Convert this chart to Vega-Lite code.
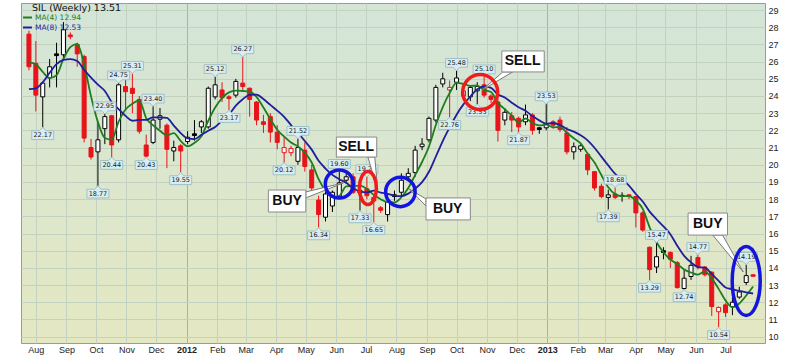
{
"$schema": "https://vega.github.io/schema/vega-lite/v6.json",
"width": 744, "height": 340,
"autosize": {"type": "none"},
"padding": {"left": 21, "top": 3, "right": 35, "bottom": 14},
"background": "#ffffff",
"title": {"text": "SIL (Weekly) 13.51", "anchor": "start", "frame": "group", "offset": -9, "dx": 11, "fontSize": 9.5, "font": "DejaVu Sans", "fontWeight": "normal", "color": "#111111"},
"config": {
  "view": {"fill": {"gradient": "linear", "x1": 0, "y1": 0, "x2": 0, "y2": 1, "stops": [{"offset": 0, "color": "#d3e5d8"}, {"offset": 1, "color": "#e4e8c2"}]}, "stroke": "#8fa08f", "strokeWidth": 1},
  "font": "DejaVu Sans",
  "axis": {"labelOverlap": false, "labelFlush": false}
},
"datasets": {
"candles": [
{"date":"2011-07-25","open":27.6,"high":27.8,"low":25.5,"close":25.7,"ma4":25.95,"ma8":24.4},
{"date":"2011-08-01","open":25.9,"high":27.2,"low":23.1,"close":24.05,"ma4":25.85,"ma8":24.45},
{"date":"2011-08-08","open":23.95,"high":24.85,"low":22.17,"close":24.75,"ma4":25.4,"ma8":24.8,"lab":"L"},
{"date":"2011-08-15","open":25.05,"high":26.15,"low":24.5,"close":25.7,"ma4":25.05,"ma8":25.35},
{"date":"2011-08-22","open":26.45,"high":27.1,"low":24.5,"close":26.35,"ma4":25.21,"ma8":25.85},
{"date":"2011-08-29","open":26.4,"high":28.3,"low":26.2,"close":27.85,"ma4":26.16,"ma8":26.1},
{"date":"2011-09-05","open":27.55,"high":27.7,"low":27.3,"close":27.45,"ma4":26.84,"ma8":26.15},
{"date":"2011-09-12","open":27.0,"high":27.1,"low":25.7,"close":26.45,"ma4":27.03,"ma8":26.04},
{"date":"2011-09-19","open":26.3,"high":26.4,"low":21.3,"close":21.55,"ma4":25.83,"ma8":25.52},
{"date":"2011-09-26","open":21.0,"high":21.5,"low":20.3,"close":20.45,"ma4":23.98,"ma8":25.07},
{"date":"2011-10-03","open":20.75,"high":22.5,"low":18.77,"close":21.45,"ma4":22.48,"ma8":24.66,"lab":"L"},
{"date":"2011-10-10","open":22.1,"high":22.95,"low":21.2,"close":22.8,"ma4":21.56,"ma8":24.29,"lab":"H"},
{"date":"2011-10-17","open":22.85,"high":22.9,"low":20.44,"close":21.15,"ma4":21.46,"ma8":23.64,"lab":"L"},
{"date":"2011-10-24","open":21.45,"high":24.75,"low":21.3,"close":24.65,"ma4":22.51,"ma8":23.24,"lab":"H"},
{"date":"2011-10-31","open":24.55,"high":24.95,"low":23.2,"close":24.25,"ma4":23.21,"ma8":22.84},
{"date":"2011-11-07","open":24.45,"high":25.31,"low":23.0,"close":24.15,"ma4":23.55,"ma8":22.56,"lab":"H"},
{"date":"2011-11-14","open":23.8,"high":24.0,"low":21.8,"close":21.95,"ma4":23.75,"ma8":22.61},
{"date":"2011-11-21","open":21.15,"high":21.75,"low":20.43,"close":20.5,"ma4":22.71,"ma8":22.61,"lab":"L"},
{"date":"2011-11-28","open":21.3,"high":23.4,"low":21.2,"close":22.6,"ma4":22.3,"ma8":22.76,"lab":"H"},
{"date":"2011-12-05","open":22.65,"high":23.3,"low":22.1,"close":22.85,"ma4":21.98,"ma8":22.76},
{"date":"2011-12-12","open":22.3,"high":22.4,"low":19.8,"close":20.9,"ma4":21.71,"ma8":22.73},
{"date":"2011-12-19","open":20.8,"high":21.4,"low":20.2,"close":21.0,"ma4":21.84,"ma8":22.28},
{"date":"2011-12-26","open":21.1,"high":21.2,"low":19.55,"close":20.8,"ma4":21.39,"ma8":21.84,"lab":"L"},
{"date":"2012-01-02","open":21.35,"high":21.95,"low":21.2,"close":21.6,"ma4":21.08,"ma8":21.53},
{"date":"2012-01-09","open":21.8,"high":22.6,"low":21.4,"close":21.7,"ma4":21.28,"ma8":21.49},
{"date":"2012-01-16","open":22.2,"high":22.6,"low":21.85,"close":22.5,"ma4":21.65,"ma8":21.74},
{"date":"2012-01-23","open":22.2,"high":24.55,"low":22.1,"close":24.45,"ma4":22.56,"ma8":21.98},
{"date":"2012-01-30","open":23.95,"high":25.12,"low":23.8,"close":24.65,"ma4":23.33,"ma8":22.2,"lab":"H"},
{"date":"2012-02-06","open":24.35,"high":24.8,"low":23.65,"close":23.9,"ma4":23.88,"ma8":22.58},
{"date":"2012-02-13","open":23.95,"high":24.05,"low":23.17,"close":23.85,"ma4":24.21,"ma8":22.93,"lab":"L"},
{"date":"2012-02-20","open":24.05,"high":25.0,"low":23.9,"close":24.85,"ma4":24.31,"ma8":23.44},
{"date":"2012-02-27","open":24.75,"high":26.27,"low":24.3,"close":24.55,"ma4":24.29,"ma8":23.81,"lab":"H"},
{"date":"2012-03-05","open":24.45,"high":24.5,"low":22.8,"close":23.8,"ma4":24.26,"ma8":24.07},
{"date":"2012-03-12","open":23.65,"high":23.7,"low":22.3,"close":22.6,"ma4":23.95,"ma8":24.08},
{"date":"2012-03-19","open":22.5,"high":22.9,"low":21.85,"close":22.35,"ma4":23.33,"ma8":23.82},
{"date":"2012-03-26","open":22.8,"high":23.0,"low":21.3,"close":21.9,"ma4":22.66,"ma8":23.48},
{"date":"2012-04-02","open":21.9,"high":22.3,"low":20.9,"close":21.3,"ma4":22.04,"ma8":23.15},
{"date":"2012-04-09","open":20.7,"high":21.6,"low":20.12,"close":21.0,"ma4":21.64,"ma8":22.79,"lab":"L"},
{"date":"2012-04-16","open":20.7,"high":21.1,"low":20.5,"close":20.95,"ma4":21.29,"ma8":22.31},
{"date":"2012-04-23","open":20.2,"high":21.52,"low":20.0,"close":21.0,"ma4":21.06,"ma8":21.86,"lab":"H"},
{"date":"2012-04-30","open":20.85,"high":21.3,"low":19.6,"close":19.9,"ma4":20.71,"ma8":21.38},
{"date":"2012-05-07","open":19.7,"high":20.0,"low":18.5,"close":18.65,"ma4":20.13,"ma8":20.88},
{"date":"2012-05-14","open":17.95,"high":18.2,"low":16.34,"close":17.1,"ma4":19.16,"ma8":20.23,"lab":"L"},
{"date":"2012-05-21","open":16.95,"high":18.6,"low":16.7,"close":18.3,"ma4":18.49,"ma8":19.78},
{"date":"2012-05-28","open":17.6,"high":18.5,"low":17.25,"close":18.4,"ma4":18.11,"ma8":19.41},
{"date":"2012-06-04","open":18.15,"high":19.6,"low":18.0,"close":18.95,"ma4":18.19,"ma8":19.16,"lab":"H"},
{"date":"2012-06-11","open":19.1,"high":19.5,"low":18.9,"close":19.3,"ma4":18.74,"ma8":18.95},
{"date":"2012-06-18","open":19.3,"high":19.5,"low":18.3,"close":18.4,"ma4":18.76,"ma8":18.63},
{"date":"2012-06-25","open":18.35,"high":19.0,"low":17.33,"close":18.5,"ma4":18.79,"ma8":18.45,"lab":"L"},
{"date":"2012-07-02","open":18.6,"high":19.29,"low":18.0,"close":18.2,"ma4":18.6,"ma8":18.39,"lab":"H"},
{"date":"2012-07-09","open":18.1,"high":18.3,"low":16.65,"close":17.9,"ma4":18.25,"ma8":18.49,"lab":"L"},
{"date":"2012-07-16","open":17.5,"high":17.6,"low":17.2,"close":17.35,"ma4":17.99,"ma8":18.38},
{"date":"2012-07-23","open":17.1,"high":18.25,"low":16.7,"close":17.85,"ma4":17.83,"ma8":18.31},
{"date":"2012-07-30","open":18.25,"high":18.5,"low":17.9,"close":18.15,"ma4":17.81,"ma8":18.21},
{"date":"2012-08-06","open":18.4,"high":19.5,"low":18.2,"close":19.1,"ma4":18.11,"ma8":18.18},
{"date":"2012-08-13","open":19.3,"high":19.8,"low":19.1,"close":19.5,"ma4":18.65,"ma8":18.32},
{"date":"2012-08-20","open":19.55,"high":21.1,"low":19.3,"close":20.85,"ma4":19.4,"ma8":18.61},
{"date":"2012-08-27","open":21.05,"high":21.55,"low":20.85,"close":21.2,"ma4":20.16,"ma8":18.99},
{"date":"2012-09-03","open":21.45,"high":22.8,"low":21.3,"close":22.7,"ma4":21.06,"ma8":19.59},
{"date":"2012-09-10","open":22.6,"high":24.65,"low":22.45,"close":24.5,"ma4":22.31,"ma8":20.48},
{"date":"2012-09-17","open":24.7,"high":25.35,"low":24.5,"close":25.0,"ma4":23.35,"ma8":21.38},
{"date":"2012-09-24","open":24.35,"high":24.9,"low":22.76,"close":24.5,"ma4":24.18,"ma8":22.17,"lab":"L"},
{"date":"2012-10-01","open":24.8,"high":25.48,"low":24.35,"close":25.05,"ma4":24.76,"ma8":22.91,"lab":"H"},
{"date":"2012-10-08","open":24.0,"high":24.7,"low":23.8,"close":24.3,"ma4":24.71,"ma8":23.51},
{"date":"2012-10-15","open":23.95,"high":24.6,"low":23.7,"close":24.5,"ma4":24.59,"ma8":23.97},
{"date":"2012-10-22","open":24.3,"high":24.8,"low":23.53,"close":24.55,"ma4":24.6,"ma8":24.39,"lab":"L"},
{"date":"2012-10-29","open":24.65,"high":25.1,"low":23.9,"close":24.05,"ma4":24.35,"ma8":24.56,"lab":"H"},
{"date":"2012-11-05","open":24.0,"high":24.1,"low":23.6,"close":23.8,"ma4":24.23,"ma8":24.47},
{"date":"2012-11-12","open":23.65,"high":23.9,"low":21.35,"close":22.0,"ma4":23.6,"ma8":24.09},
{"date":"2012-11-19","open":22.6,"high":23.3,"low":22.3,"close":23.05,"ma4":23.23,"ma8":23.91},
{"date":"2012-11-26","open":22.85,"high":23.07,"low":21.9,"close":22.6,"ma4":22.86,"ma8":23.61},
{"date":"2012-12-03","open":22.7,"high":22.8,"low":21.87,"close":22.2,"ma4":22.46,"ma8":23.34,"lab":"L"},
{"date":"2012-12-10","open":22.5,"high":23.5,"low":22.3,"close":22.9,"ma4":22.69,"ma8":23.14},
{"date":"2012-12-17","open":22.9,"high":23.0,"low":21.75,"close":22.0,"ma4":22.43,"ma8":22.83},
{"date":"2012-12-24","open":22.15,"high":22.2,"low":21.8,"close":22.05,"ma4":22.29,"ma8":22.58},
{"date":"2012-12-31","open":22.15,"high":23.53,"low":22.0,"close":22.35,"ma4":22.33,"ma8":22.39,"lab":"H"},
{"date":"2013-01-07","open":22.5,"high":22.6,"low":22.1,"close":22.3,"ma4":22.18,"ma8":22.43},
{"date":"2013-01-14","open":22.6,"high":22.8,"low":21.9,"close":22.05,"ma4":22.19,"ma8":22.31},
{"date":"2013-01-21","open":21.85,"high":22.2,"low":20.6,"close":20.75,"ma4":21.86,"ma8":22.08},
{"date":"2013-01-28","open":20.75,"high":21.3,"low":20.3,"close":21.05,"ma4":21.54,"ma8":21.93},
{"date":"2013-02-04","open":20.9,"high":21.2,"low":20.75,"close":21.1,"ma4":21.24,"ma8":21.71},
{"date":"2013-02-11","open":20.6,"high":20.7,"low":19.4,"close":19.7,"ma4":20.65,"ma8":21.42},
{"date":"2013-02-18","open":19.6,"high":19.6,"low":18.5,"close":18.65,"ma4":20.13,"ma8":20.99},
{"date":"2013-02-25","open":18.75,"high":18.9,"low":18.05,"close":18.15,"ma4":19.4,"ma8":20.47},
{"date":"2013-03-04","open":18.1,"high":18.55,"low":17.39,"close":18.25,"ma4":18.69,"ma8":19.96,"lab":"L"},
{"date":"2013-03-11","open":18.3,"high":18.68,"low":18.0,"close":18.1,"ma4":18.29,"ma8":19.47,"lab":"H"},
{"date":"2013-03-18","open":18.22,"high":18.4,"low":17.85,"close":18.18,"ma4":18.17,"ma8":19.15},
{"date":"2013-03-25","open":18.25,"high":18.3,"low":18.0,"close":18.15,"ma4":18.17,"ma8":18.79},
{"date":"2013-04-01","open":18.15,"high":18.2,"low":16.35,"close":17.2,"ma4":17.91,"ma8":18.3},
{"date":"2013-04-08","open":17.2,"high":17.3,"low":16.1,"close":16.2,"ma4":17.43,"ma8":17.86},
{"date":"2013-04-15","open":15.2,"high":15.25,"low":13.29,"close":13.9,"ma4":16.36,"ma8":17.27,"lab":"L"},
{"date":"2013-04-22","open":14.05,"high":15.47,"low":13.7,"close":14.65,"ma4":15.49,"ma8":16.83,"lab":"H"},
{"date":"2013-04-29","open":15.0,"high":15.2,"low":14.5,"close":14.9,"ma4":14.91,"ma8":16.41},
{"date":"2013-05-06","open":14.9,"high":14.95,"low":14.0,"close":14.5,"ma4":14.49,"ma8":15.96},
{"date":"2013-05-13","open":14.3,"high":14.4,"low":12.8,"close":12.85,"ma4":14.23,"ma8":15.29},
{"date":"2013-05-20","open":12.8,"high":13.9,"low":12.74,"close":13.4,"ma4":13.91,"ma8":14.7,"lab":"L"},
{"date":"2013-05-27","open":13.5,"high":14.7,"low":13.3,"close":14.15,"ma4":13.73,"ma8":14.32},
{"date":"2013-06-03","open":14.6,"high":14.77,"low":13.9,"close":14.05,"ma4":13.61,"ma8":14.05,"lab":"H"},
{"date":"2013-06-10","open":14.05,"high":14.1,"low":13.5,"close":13.6,"ma4":13.8,"ma8":14.01},
{"date":"2013-06-17","open":13.75,"high":13.8,"low":11.2,"close":11.75,"ma4":13.39,"ma8":13.65},
{"date":"2013-06-24","open":11.45,"high":11.75,"low":10.54,"close":11.7,"ma4":12.78,"ma8":13.25,"lab":"L"},
{"date":"2013-07-01","open":11.85,"high":11.95,"low":11.15,"close":11.4,"ma4":12.11,"ma8":12.86},
{"date":"2013-07-08","open":11.75,"high":12.3,"low":11.25,"close":12.0,"ma4":11.71,"ma8":12.76},
{"date":"2013-07-15","open":12.3,"high":12.9,"low":12.2,"close":12.6,"ma4":11.93,"ma8":12.66},
{"date":"2013-07-22","open":13.15,"high":14.19,"low":13.0,"close":13.55,"ma4":12.39,"ma8":12.58,"lab":"H"},
{"date":"2013-07-29","open":13.6,"high":13.62,"low":13.49,"close":13.51,"ma4":12.92,"ma8":12.51}
],
"circles": [
{"n":1,"sig":"BUY","date":"2012-06-04","price":18.88},
{"n":2,"sig":"SELL","date":"2012-07-03","price":18.65},
{"n":3,"sig":"BUY","date":"2012-08-05","price":18.42},
{"n":4,"sig":"SELL","date":"2012-10-25","price":24.23},
{"n":5,"sig":"BUY","date":"2013-07-22","price":13.24}
],
"callouts": [
{"sig":"BUY","date":"2012-03-24","date2":"2012-05-01","top":18.53,"bot":17.25,"tdate":"2012-04-12","tprice":17.89},
{"sig":"SELL","date":"2012-06-01","date2":"2012-07-12","top":21.61,"bot":20.45,"tdate":"2012-06-21","tprice":21.03},
{"sig":"BUY","date":"2012-08-31","date2":"2012-10-15","top":18.07,"bot":16.79,"tdate":"2012-09-22","tprice":17.43},
{"sig":"SELL","date":"2012-11-16","date2":"2012-12-29","top":26.62,"bot":25.4,"tdate":"2012-12-07","tprice":26.01},
{"sig":"BUY","date":"2013-05-24","date2":"2013-07-03","top":17.19,"bot":15.91,"tdate":"2013-06-13","tprice":16.55}
],
"wedgesV": [
{"n":1,"date":"2012-05-01","price":18.42,"price2":18.07},
{"n":1,"date":"2012-06-08","price":18.94,"price2":18.94},
{"n":3,"date":"2012-08-14","price":18.59,"price2":18.59},
{"n":3,"date":"2012-08-31","price":18.01,"price2":17.6}
],
"wedgesH": [
{"n":2,"price":20.45,"date":"2012-07-03","date2":"2012-07-10"},
{"n":2,"price":18.53,"date":"2012-07-13","date2":"2012-07-13"},
{"n":4,"price":25.4,"date":"2012-11-17","date2":"2012-11-27"},
{"n":4,"price":24.35,"date":"2012-10-27","date2":"2012-10-27"},
{"n":5,"price":15.91,"date":"2013-06-18","date2":"2013-06-28"},
{"n":5,"price":13.76,"date":"2013-07-19","date2":"2013-07-19"}
]
},
"data": {"name": "candles"},
"transform": [{"window": [{"op": "lag", "field": "close", "as": "prev"}], "sort": [{"field": "date", "order": "ascending"}]}],
"encoding": {
  "x": {"field": "date", "type": "temporal", "title": null,
    "scale": {"type": "utc", "domain": [{"year":2011,"month":7,"date":22,"utc":true},{"year":2013,"month":8,"date":5,"utc":true}]},
    "axis": {"orient": "bottom",
      "values": [{"year":2011,"month":8,"date":1,"utc":true},{"year":2011,"month":9,"date":1,"utc":true},{"year":2011,"month":10,"date":1,"utc":true},{"year":2011,"month":11,"date":1,"utc":true},{"year":2011,"month":12,"date":1,"utc":true},
        {"year":2012,"month":1,"date":1,"utc":true},{"year":2012,"month":2,"date":1,"utc":true},{"year":2012,"month":3,"date":1,"utc":true},{"year":2012,"month":4,"date":1,"utc":true},{"year":2012,"month":5,"date":1,"utc":true},{"year":2012,"month":6,"date":1,"utc":true},{"year":2012,"month":7,"date":1,"utc":true},{"year":2012,"month":8,"date":1,"utc":true},{"year":2012,"month":9,"date":1,"utc":true},{"year":2012,"month":10,"date":1,"utc":true},{"year":2012,"month":11,"date":1,"utc":true},{"year":2012,"month":12,"date":1,"utc":true},
        {"year":2013,"month":1,"date":1,"utc":true},{"year":2013,"month":2,"date":1,"utc":true},{"year":2013,"month":3,"date":1,"utc":true},{"year":2013,"month":4,"date":1,"utc":true},{"year":2013,"month":5,"date":1,"utc":true},{"year":2013,"month":6,"date":1,"utc":true},{"year":2013,"month":7,"date":1,"utc":true}],
      "labelExpr": "utcFormat(datum.value, '%m') == '01' ? utcFormat(datum.value, '%Y') : utcFormat(datum.value, '%b')",
      "labelFontWeight": {"condition": {"test": "utcFormat(datum.value, '%m') == '01'", "value": "bold"}, "value": "normal"},
      "labelFont": "Liberation Sans", "labelFontSize": 9, "labelColor": "#222222", "labelPadding": 2,
      "labelFlush": false, "labelOverlap": false, "labelBound": false,
      "ticks": false, "domain": false, "grid": true,
      "gridColor": {"condition": {"test": "utcFormat(datum.value, '%m') == '01'", "value": "#a6b5a2"}, "value": "#c3d1c0"}
    }
  }
},
"layer": [
  {"mark": {"type": "rule", "strokeWidth": 1},
   "encoding": {
     "y": {"field": "low", "type": "quantitative", "title": null, "scale": {"domain": [9.63, 29.41], "nice": false, "zero": false},
       "axis": {"orient": "right", "values": [10,11,12,13,14,15,16,17,18,19,20,21,22,23,24,25,26,27,28,29], "labelFont": "Liberation Sans", "labelFontSize": 9, "labelColor": "#222222", "labelPadding": 3, "ticks": false, "domain": false, "grid": true, "gridColor": "#c3d1c0", "labelFlush": false, "labelOverlap": false}},
     "y2": {"field": "high"},
     "color": {"condition": {"test": "datum.prev != null && datum.close >= datum.prev", "value": "#000000"}, "value": "#e8141a"}
   }},
  {"mark": {"type": "bar", "size": 4, "strokeWidth": 1},
   "encoding": {
     "y": {"field": "open", "type": "quantitative", "title": null, "scale": {"domain": [9.63, 29.41], "nice": false, "zero": false},
       "axis": {"orient": "right", "values": [10,11,12,13,14,15,16,17,18,19,20,21,22,23,24,25,26,27,28,29], "labelFont": "Liberation Sans", "labelFontSize": 9, "labelColor": "#222222", "labelPadding": 3, "ticks": false, "domain": false, "grid": true, "gridColor": "#c3d1c0", "labelFlush": false, "labelOverlap": false}},
     "y2": {"field": "close"},
     "fill": {"condition": [{"test": "datum.close >= datum.open", "value": "#ffffff"}, {"test": "datum.prev != null && datum.close >= datum.prev", "value": "#000000"}], "value": "#e8141a"},
     "stroke": {"condition": {"test": "datum.prev != null && datum.close >= datum.prev", "value": "#000000"}, "value": "#e8141a"}
   }},
  {"transform": [{"fold": ["ma4", "ma8"], "as": ["series", "value"]}],
   "mark": {"type": "line", "strokeWidth": 1.8, "interpolate": "monotone"},
   "encoding": {
     "y": {"field": "value", "type": "quantitative", "title": null, "scale": {"domain": [9.63, 29.41], "nice": false, "zero": false},
       "axis": {"orient": "right", "values": [10,11,12,13,14,15,16,17,18,19,20,21,22,23,24,25,26,27,28,29], "labelFont": "Liberation Sans", "labelFontSize": 9, "labelColor": "#222222", "labelPadding": 3, "ticks": false, "domain": false, "grid": true, "gridColor": "#c3d1c0", "labelFlush": false, "labelOverlap": false}},
     "color": {"field": "series", "type": "nominal",
       "scale": {"domain": ["ma4", "ma8"], "range": ["#1e7d1e", "#1f1f9c"]},
       "legend": {"title": null, "orient": "none", "legendX": 1, "legendY": 9, "symbolType": "stroke", "symbolStrokeWidth": 2, "symbolSize": 80,
         "labelFont": "DejaVu Sans", "labelFontSize": 7.5, "labelOffset": 2, "rowPadding": 0, "padding": 0, "offset": 0,
         "labelExpr": "datum.value == 'ma4' ? 'MA(4) 12.94' : 'MA(8) 12.53'",
         "labelColor": {"expr": "datum.value == 'ma4' ? '#1e7d1e' : '#1f1f9c'"}}}
   }},
  {"transform": [{"filter": "datum.lab == 'H'"}],
   "mark": {"type": "point", "shape": "M0,0L-0.3,-0.3L-1,-0.3L-1,-1.1L1,-1.1L1,-0.3L0.3,-0.3Z", "size": 484, "filled": true, "fill": "#d9edf0", "stroke": "#9ec0c8", "strokeWidth": 1, "opacity": 1},
   "encoding": {"y": {"field": "high", "type": "quantitative", "title": null, "scale": {"domain": [9.63, 29.41], "nice": false, "zero": false},
       "axis": {"orient": "right", "values": [10,11,12,13,14,15,16,17,18,19,20,21,22,23,24,25,26,27,28,29], "labelFont": "Liberation Sans", "labelFontSize": 9, "labelColor": "#222222", "labelPadding": 3, "ticks": false, "domain": false, "grid": true, "gridColor": "#c3d1c0", "labelFlush": false, "labelOverlap": false}}}},
  {"transform": [{"filter": "datum.lab == 'H'"}],
   "mark": {"type": "text", "dy": -7.7, "fontSize": 6.5, "font": "DejaVu Sans", "color": "#1a1a1a", "baseline": "middle"},
   "encoding": {"y": {"field": "high", "type": "quantitative", "title": null, "scale": {"domain": [9.63, 29.41], "nice": false, "zero": false},
       "axis": {"orient": "right", "values": [10,11,12,13,14,15,16,17,18,19,20,21,22,23,24,25,26,27,28,29], "labelFont": "Liberation Sans", "labelFontSize": 9, "labelColor": "#222222", "labelPadding": 3, "ticks": false, "domain": false, "grid": true, "gridColor": "#c3d1c0", "labelFlush": false, "labelOverlap": false}},
     "text": {"field": "high", "type": "quantitative", "format": ".2f"}}},
  {"transform": [{"filter": "datum.lab == 'L'"}],
   "mark": {"type": "point", "shape": "M0,0L-0.3,0.3L-1,0.3L-1,1.1L1,1.1L1,0.3L0.3,0.3Z", "size": 484, "filled": true, "fill": "#d9edf0", "stroke": "#9ec0c8", "strokeWidth": 1, "opacity": 1},
   "encoding": {"y": {"field": "low", "type": "quantitative", "title": null, "scale": {"domain": [9.63, 29.41], "nice": false, "zero": false},
       "axis": {"orient": "right", "values": [10,11,12,13,14,15,16,17,18,19,20,21,22,23,24,25,26,27,28,29], "labelFont": "Liberation Sans", "labelFontSize": 9, "labelColor": "#222222", "labelPadding": 3, "ticks": false, "domain": false, "grid": true, "gridColor": "#c3d1c0", "labelFlush": false, "labelOverlap": false}}}},
  {"transform": [{"filter": "datum.lab == 'L'"}],
   "mark": {"type": "text", "dy": 7.7, "fontSize": 6.5, "font": "DejaVu Sans", "color": "#1a1a1a", "baseline": "middle"},
   "encoding": {"y": {"field": "low", "type": "quantitative", "title": null, "scale": {"domain": [9.63, 29.41], "nice": false, "zero": false},
       "axis": {"orient": "right", "values": [10,11,12,13,14,15,16,17,18,19,20,21,22,23,24,25,26,27,28,29], "labelFont": "Liberation Sans", "labelFontSize": 9, "labelColor": "#222222", "labelPadding": 3, "ticks": false, "domain": false, "grid": true, "gridColor": "#c3d1c0", "labelFlush": false, "labelOverlap": false}},
     "text": {"field": "low", "type": "quantitative", "format": ".2f"}}},
  {"data": {"name": "wedgesV"}, "transform": [{"filter": "datum.n == 1"}],
   "mark": {"type": "area", "orient": "vertical", "fill": "#ffffff", "stroke": "#7a7a7a", "strokeWidth": 1, "opacity": 1},
   "encoding": {
     "y": {"field": "price", "type": "quantitative", "title": null, "scale": {"domain": [9.63, 29.41], "nice": false, "zero": false},
       "axis": {"orient": "right", "values": [10,11,12,13,14,15,16,17,18,19,20,21,22,23,24,25,26,27,28,29], "labelFont": "Liberation Sans", "labelFontSize": 9, "labelColor": "#222222", "labelPadding": 3, "ticks": false, "domain": false, "grid": true, "gridColor": "#c3d1c0", "labelFlush": false, "labelOverlap": false}},
     "y2": {"field": "price2"}}},
  {"data": {"name": "wedgesV"}, "transform": [{"filter": "datum.n == 3"}],
   "mark": {"type": "area", "orient": "vertical", "fill": "#ffffff", "stroke": "#7a7a7a", "strokeWidth": 1, "opacity": 1},
   "encoding": {
     "y": {"field": "price", "type": "quantitative", "title": null, "scale": {"domain": [9.63, 29.41], "nice": false, "zero": false},
       "axis": {"orient": "right", "values": [10,11,12,13,14,15,16,17,18,19,20,21,22,23,24,25,26,27,28,29], "labelFont": "Liberation Sans", "labelFontSize": 9, "labelColor": "#222222", "labelPadding": 3, "ticks": false, "domain": false, "grid": true, "gridColor": "#c3d1c0", "labelFlush": false, "labelOverlap": false}},
     "y2": {"field": "price2"}}},
  {"data": {"name": "wedgesH"}, "transform": [{"filter": "datum.n == 2"}],
   "mark": {"type": "area", "orient": "horizontal", "fill": "#ffffff", "stroke": "#7a7a7a", "strokeWidth": 1, "opacity": 1},
   "encoding": {
     "x2": {"field": "date2"},
     "y": {"field": "price", "type": "quantitative", "title": null, "scale": {"domain": [9.63, 29.41], "nice": false, "zero": false},
       "axis": {"orient": "right", "values": [10,11,12,13,14,15,16,17,18,19,20,21,22,23,24,25,26,27,28,29], "labelFont": "Liberation Sans", "labelFontSize": 9, "labelColor": "#222222", "labelPadding": 3, "ticks": false, "domain": false, "grid": true, "gridColor": "#c3d1c0", "labelFlush": false, "labelOverlap": false}}}},
  {"data": {"name": "wedgesH"}, "transform": [{"filter": "datum.n == 4"}],
   "mark": {"type": "area", "orient": "horizontal", "fill": "#ffffff", "stroke": "#7a7a7a", "strokeWidth": 1, "opacity": 1},
   "encoding": {
     "x2": {"field": "date2"},
     "y": {"field": "price", "type": "quantitative", "title": null, "scale": {"domain": [9.63, 29.41], "nice": false, "zero": false},
       "axis": {"orient": "right", "values": [10,11,12,13,14,15,16,17,18,19,20,21,22,23,24,25,26,27,28,29], "labelFont": "Liberation Sans", "labelFontSize": 9, "labelColor": "#222222", "labelPadding": 3, "ticks": false, "domain": false, "grid": true, "gridColor": "#c3d1c0", "labelFlush": false, "labelOverlap": false}}}},
  {"data": {"name": "wedgesH"}, "transform": [{"filter": "datum.n == 5"}],
   "mark": {"type": "area", "orient": "horizontal", "fill": "#ffffff", "stroke": "#7a7a7a", "strokeWidth": 1, "opacity": 1},
   "encoding": {
     "x2": {"field": "date2"},
     "y": {"field": "price", "type": "quantitative", "title": null, "scale": {"domain": [9.63, 29.41], "nice": false, "zero": false},
       "axis": {"orient": "right", "values": [10,11,12,13,14,15,16,17,18,19,20,21,22,23,24,25,26,27,28,29], "labelFont": "Liberation Sans", "labelFontSize": 9, "labelColor": "#222222", "labelPadding": 3, "ticks": false, "domain": false, "grid": true, "gridColor": "#c3d1c0", "labelFlush": false, "labelOverlap": false}}}},
  {"data": {"name": "callouts"},
   "mark": {"type": "rect", "fill": "#8c8c8c", "opacity": 0.7, "xOffset": 2, "yOffset": 2},
   "encoding": {"x2": {"field": "date2"},
     "y": {"field": "top", "type": "quantitative", "title": null, "scale": {"domain": [9.63, 29.41], "nice": false, "zero": false},
       "axis": {"orient": "right", "values": [10,11,12,13,14,15,16,17,18,19,20,21,22,23,24,25,26,27,28,29], "labelFont": "Liberation Sans", "labelFontSize": 9, "labelColor": "#222222", "labelPadding": 3, "ticks": false, "domain": false, "grid": true, "gridColor": "#c3d1c0", "labelFlush": false, "labelOverlap": false}},
     "y2": {"field": "bot"}}},
  {"data": {"name": "callouts"},
   "mark": {"type": "rect", "fill": "#ffffff", "stroke": "#8a8a8a", "strokeWidth": 1},
   "encoding": {"x2": {"field": "date2"},
     "y": {"field": "top", "type": "quantitative", "title": null, "scale": {"domain": [9.63, 29.41], "nice": false, "zero": false},
       "axis": {"orient": "right", "values": [10,11,12,13,14,15,16,17,18,19,20,21,22,23,24,25,26,27,28,29], "labelFont": "Liberation Sans", "labelFontSize": 9, "labelColor": "#222222", "labelPadding": 3, "ticks": false, "domain": false, "grid": true, "gridColor": "#c3d1c0", "labelFlush": false, "labelOverlap": false}},
     "y2": {"field": "bot"}}},
  {"data": {"name": "callouts"},
   "mark": {"type": "text", "font": "Liberation Sans Narrow, Liberation Sans, Arial", "fontWeight": "bold", "fontSize": 14, "color": "#111111", "align": "center", "baseline": "middle"},
   "encoding": {"x": {"field": "tdate", "type": "temporal", "title": null},
     "y": {"field": "tprice", "type": "quantitative", "title": null, "scale": {"domain": [9.63, 29.41], "nice": false, "zero": false},
       "axis": {"orient": "right", "values": [10,11,12,13,14,15,16,17,18,19,20,21,22,23,24,25,26,27,28,29], "labelFont": "Liberation Sans", "labelFontSize": 9, "labelColor": "#222222", "labelPadding": 3, "ticks": false, "domain": false, "grid": true, "gridColor": "#c3d1c0", "labelFlush": false, "labelOverlap": false}},
     "text": {"field": "sig", "type": "nominal"}}},
  {"data": {"name": "circles"}, "transform": [{"filter": "datum.n == 1"}],
   "mark": {"type": "point", "shape": "circle", "size": 784, "filled": false, "color": "#1414e0", "strokeWidth": 3.5, "opacity": 1},
   "encoding": {"y": {"field": "price", "type": "quantitative", "title": null, "scale": {"domain": [9.63, 29.41], "nice": false, "zero": false},
       "axis": {"orient": "right", "values": [10,11,12,13,14,15,16,17,18,19,20,21,22,23,24,25,26,27,28,29], "labelFont": "Liberation Sans", "labelFontSize": 9, "labelColor": "#222222", "labelPadding": 3, "ticks": false, "domain": false, "grid": true, "gridColor": "#c3d1c0", "labelFlush": false, "labelOverlap": false}}}},
  {"data": {"name": "circles"}, "transform": [{"filter": "datum.n == 2"}],
   "mark": {"type": "point", "shape": "M-0.515,0A0.515,1 0 1,0 0.515,0A0.515,1 0 1,0 -0.515,0Z", "size": 1089, "filled": false, "color": "#ee1c1c", "strokeWidth": 3.5, "opacity": 1},
   "encoding": {"y": {"field": "price", "type": "quantitative", "title": null, "scale": {"domain": [9.63, 29.41], "nice": false, "zero": false},
       "axis": {"orient": "right", "values": [10,11,12,13,14,15,16,17,18,19,20,21,22,23,24,25,26,27,28,29], "labelFont": "Liberation Sans", "labelFontSize": 9, "labelColor": "#222222", "labelPadding": 3, "ticks": false, "domain": false, "grid": true, "gridColor": "#c3d1c0", "labelFlush": false, "labelOverlap": false}}}},
  {"data": {"name": "circles"}, "transform": [{"filter": "datum.n == 3"}],
   "mark": {"type": "point", "shape": "circle", "size": 870, "filled": false, "color": "#1414e0", "strokeWidth": 3.5, "opacity": 1},
   "encoding": {"y": {"field": "price", "type": "quantitative", "title": null, "scale": {"domain": [9.63, 29.41], "nice": false, "zero": false},
       "axis": {"orient": "right", "values": [10,11,12,13,14,15,16,17,18,19,20,21,22,23,24,25,26,27,28,29], "labelFont": "Liberation Sans", "labelFontSize": 9, "labelColor": "#222222", "labelPadding": 3, "ticks": false, "domain": false, "grid": true, "gridColor": "#c3d1c0", "labelFlush": false, "labelOverlap": false}}}},
  {"data": {"name": "circles"}, "transform": [{"filter": "datum.n == 4"}],
   "mark": {"type": "point", "shape": "circle", "size": 1225, "filled": false, "color": "#ee1c1c", "strokeWidth": 3.5, "opacity": 1},
   "encoding": {"y": {"field": "price", "type": "quantitative", "title": null, "scale": {"domain": [9.63, 29.41], "nice": false, "zero": false},
       "axis": {"orient": "right", "values": [10,11,12,13,14,15,16,17,18,19,20,21,22,23,24,25,26,27,28,29], "labelFont": "Liberation Sans", "labelFontSize": 9, "labelColor": "#222222", "labelPadding": 3, "ticks": false, "domain": false, "grid": true, "gridColor": "#c3d1c0", "labelFlush": false, "labelOverlap": false}}}},
  {"data": {"name": "circles"}, "transform": [{"filter": "datum.n == 5"}],
   "mark": {"type": "point", "shape": "M-0.406,0A0.406,1 0 1,0 0.406,0A0.406,1 0 1,0 -0.406,0Z", "size": 4761, "filled": false, "color": "#1414e0", "strokeWidth": 3.5, "opacity": 1},
   "encoding": {"y": {"field": "price", "type": "quantitative", "title": null, "scale": {"domain": [9.63, 29.41], "nice": false, "zero": false},
       "axis": {"orient": "right", "values": [10,11,12,13,14,15,16,17,18,19,20,21,22,23,24,25,26,27,28,29], "labelFont": "Liberation Sans", "labelFontSize": 9, "labelColor": "#222222", "labelPadding": 3, "ticks": false, "domain": false, "grid": true, "gridColor": "#c3d1c0", "labelFlush": false, "labelOverlap": false}}}}
]
}
